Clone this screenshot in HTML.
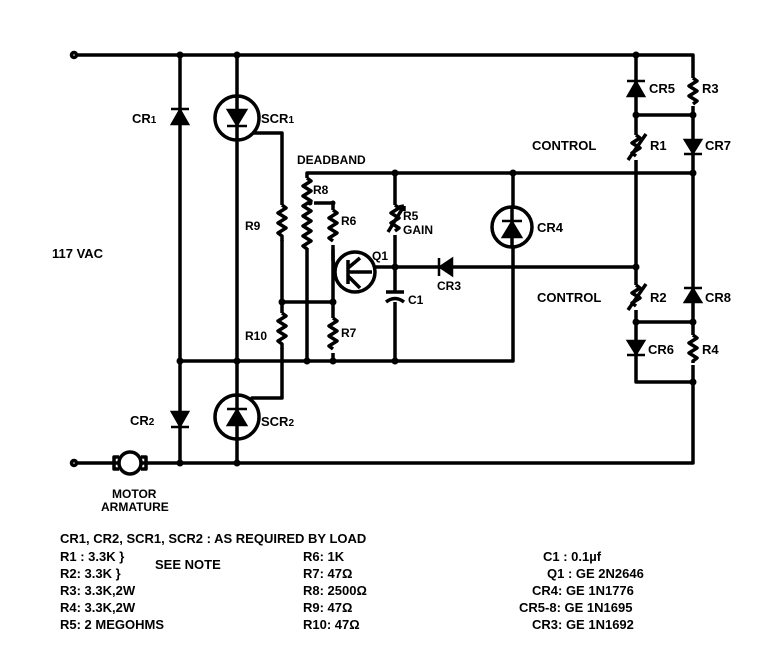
<!DOCTYPE html>
<html><head><meta charset="utf-8"><style>
html,body{margin:0;padding:0;background:#fff;}
svg{display:block}
text{font-family:"Liberation Sans",sans-serif;font-weight:bold;fill:#000;}
</style></head><body>
<svg width="764" height="655" viewBox="0 0 764 655" xmlns="http://www.w3.org/2000/svg">
<g stroke="#000" stroke-width="3.5" fill="none" stroke-linecap="round" stroke-linejoin="round">
<path d="M76 55 H693 V115"/>
<path d="M76 463 H693 V382"/>
<circle cx="74" cy="55" r="2.5" fill="#fff"/>
<circle cx="74" cy="463" r="2.5" fill="#fff"/>
<path d="M180 55 V463"/>
<path d="M237 55 V463"/>
<path d="M252 133 H282 V398 H252"/>
<path d="M180 361 H513 V173"/>
<path d="M307 361 V173 H693"/>
<path d="M282 302 H333"/>
<path d="M310 203 H333 V260 L335 270"/>
<path d="M333 250 V361"/>
<path d="M395 173 V361"/>
<path d="M372 267 H636"/>
<path d="M636 55 V382 H693"/>
<path d="M693 115 V382"/>
<path d="M636 115 H693"/>
<path d="M636 322 H693"/>
</g>
<g fill="#fff">
<rect x="275" y="205" width="14" height="35"/>
<rect x="275" y="313" width="14" height="35"/>
<rect x="300" y="178" width="14" height="70"/>
<rect x="326" y="210" width="14" height="35"/>
<rect x="326" y="318" width="14" height="35"/>
<rect x="388" y="205" width="14" height="30"/>
<rect x="686" y="78" width="14" height="28"/>
<rect x="686" y="335" width="14" height="30"/>
<rect x="629" y="135" width="14" height="25"/>
<rect x="629" y="285" width="14" height="25"/>
<rect x="386" y="292" width="18" height="10"/>
</g>
<g stroke="#000" stroke-width="3.5" fill="none" stroke-linejoin="round">
<path d="M282 205 l4 3 l-8 5 l8 5 l-8 5 l8 5 l-8 5 l4 3 v5"/>
<path d="M282 313 l4 3 l-8 5 l8 5 l-8 5 l8 5 l-8 5 l4 3 v5"/>
<path d="M307 178 l4 3 l-8 5 l8 5 l-8 5 l8 5 l-8 5 l8 5 l-8 5 l8 5 l-8 5 l8 5 l-8 5 l8 5 l-8 5 l4 3"/>
<path d="M333 210 l4 3 l-8 5 l8 5 l-8 5 l8 5 l-8 5 l4 3"/>
<path d="M333 318 l4 3 l-8 5 l8 5 l-8 5 l8 5 l-8 5 l4 3"/>
<path d="M395 205 l4 3 l-8 5 l8 5 l-8 5 l8 5 l-4 3"/>
<path d="M388 232 L404 206 M404 206 l-5 1 M404 206 l0 5"/>
<path d="M693 78 l4 3 l-8 5 l8 5 l-8 5 l8 5 l-4 3"/>
<path d="M693 335 l4 3 l-8 5 l8 5 l-8 5 l8 5 l-4 3 v2"/>
<path d="M636 135 l4 3 l-8 5 l8 5 l-8 5 l4 3"/>
<path d="M628 160 L646 134"/>
<path d="M636 285 l4 3 l-8 5 l8 5 l-8 5 l4 3"/>
<path d="M628 310 L646 284"/>
<path d="M386 292 H404 M386 302 q9 -7 18 0"/>
<circle cx="355" cy="272" r="20" fill="#fff"/>
<path d="M348 260 V284 M348 268 L360 258 M348 276 L360 288 M348 272 H372"/>
<circle cx="237" cy="118" r="22" fill="#fff"/>
<circle cx="237" cy="417" r="22" fill="#fff"/>
<circle cx="512" cy="227" r="20" fill="#fff"/>
<path d="M237 96 V140 M237 395 V439 M512 207 V247"/>
<circle cx="130" cy="463" r="11" fill="#fff"/>
<path d="M119 457 h-5 v12 h5 M141 457 h5 v12 h-5"/>
</g>
<g fill="#000" stroke="#000" stroke-width="2.5">
<path d="M172 124 L188 124 L180 110 Z M171 109 H189"/>
<path d="M172 412 L188 412 L180 426 Z M171 427 H189"/>
<path d="M228 110 L246 110 L237 125 Z M227 126 H247"/>
<path d="M228 425 L246 425 L237 410 Z M227 409 H247"/>
<path d="M503 237 L521 237 L512 222 Z M502 221 H522"/>
<path d="M628 96 L644 96 L636 82 Z M627 81 H645"/>
<path d="M685 140 L701 140 L693 153 Z M684 154 H702"/>
<path d="M685 302 L701 302 L693 289 Z M684 288 H702"/>
<path d="M628 341 L644 341 L636 354 Z M627 355 H645"/>
<path d="M452 259 L452 275 L440 267 Z M439 258 V276"/>
</g>
<g fill="#000">
<circle cx="180" cy="55" r="3.5"/><circle cx="237" cy="55" r="3.5"/><circle cx="636" cy="55" r="3.5"/>
<circle cx="180" cy="361" r="3.5"/><circle cx="237" cy="361" r="3.5"/><circle cx="307" cy="361" r="3.5"/><circle cx="333" cy="361" r="3.5"/><circle cx="395" cy="361" r="3.5"/>
<circle cx="180" cy="463" r="3.5"/><circle cx="237" cy="463" r="3.5"/>
<circle cx="282" cy="302" r="3.5"/><circle cx="333" cy="302" r="3.5"/>
<circle cx="395" cy="173" r="3.5"/><circle cx="513" cy="173" r="3.5"/><circle cx="693" cy="173" r="3.5"/>
<circle cx="395" cy="267" r="3.5"/><circle cx="636" cy="267" r="3.5"/>
<circle cx="636" cy="115" r="3.5"/><circle cx="693" cy="115" r="3.5"/>
<circle cx="636" cy="322" r="3.5"/><circle cx="693" cy="322" r="3.5"/>
<circle cx="693" cy="382" r="3.5"/><circle cx="310" cy="203" r="2.5"/><circle cx="333" cy="203" r="2.5"/>
</g>
<g font-size="13">
<text x="132" y="123">CR<tspan font-size="10">1</tspan></text>
<text x="261" y="123">SCR<tspan font-size="10">1</tspan></text>
<text x="130" y="425">CR<tspan font-size="10">2</tspan></text>
<text x="261" y="426">SCR<tspan font-size="10">2</tspan></text>
<text x="297" y="164" font-size="12">DEADBAND</text>
<text x="313" y="194" font-size="12">R8</text>
<text x="341" y="225" font-size="12">R6</text>
<text x="245" y="230" font-size="12">R9</text>
<text x="245" y="340" font-size="12">R10</text>
<text x="341" y="337" font-size="12">R7</text>
<text x="403" y="220" font-size="12">R5</text>
<text x="403" y="234" font-size="12">GAIN</text>
<text x="372" y="260" font-size="12">Q1</text>
<text x="408" y="304" font-size="12">C1</text>
<text x="437" y="290" font-size="12">CR3</text>
<text x="537" y="232">CR4</text>
<text x="649" y="93">CR5</text>
<text x="702" y="93">R3</text>
<text x="532" y="150">CONTROL</text>
<text x="650" y="150">R1</text>
<text x="705" y="150">CR7</text>
<text x="537" y="302">CONTROL</text>
<text x="650" y="302">R2</text>
<text x="705" y="302">CR8</text>
<text x="648" y="354">CR6</text>
<text x="702" y="354">R4</text>
<text x="52" y="258">117 VAC</text>
<text x="112" y="498" font-size="12">MOTOR</text>
<text x="101" y="511" font-size="12">ARMATURE</text>
<text x="60" y="543">CR1, CR2, SCR1, SCR2 : AS REQUIRED BY LOAD</text>
<text x="60" y="561">R1 : 3.3K }</text>
<text x="155" y="569">SEE  NOTE</text>
<text x="60" y="578">R2: 3.3K }</text>
<text x="60" y="595">R3: 3.3K,2W</text>
<text x="60" y="612">R4: 3.3K,2W</text>
<text x="60" y="629">R5: 2 MEGOHMS</text>
<text x="303" y="561">R6: 1K</text>
<text x="303" y="578">R7: 47Ω</text>
<text x="303" y="595">R8: 2500Ω</text>
<text x="303" y="612">R9: 47Ω</text>
<text x="303" y="629">R10: 47Ω</text>
<text x="543" y="561">C1 : 0.1µf</text>
<text x="547" y="578">Q1 : GE 2N2646</text>
<text x="532" y="595">CR4: GE 1N1776</text>
<text x="519" y="612">CR5-8: GE 1N1695</text>
<text x="532" y="629">CR3: GE 1N1692</text>
</g>
</svg>
</body></html>
